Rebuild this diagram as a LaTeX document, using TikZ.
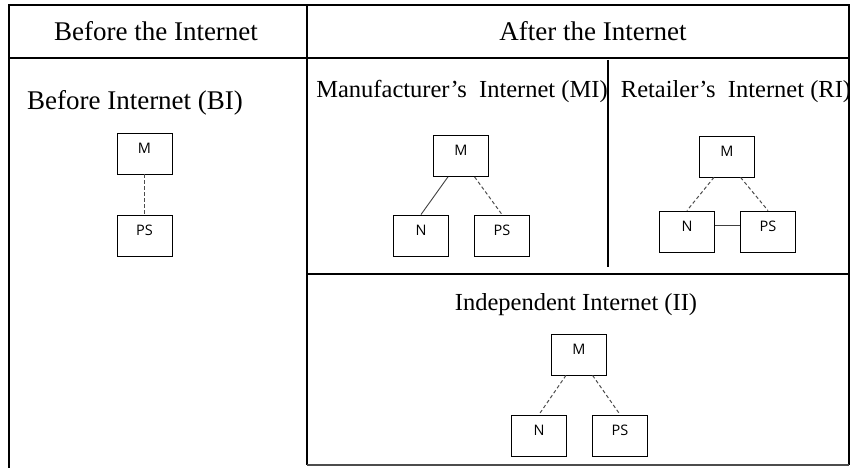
\documentclass[tikz,border=0pt]{standalone}
\usepackage{fontspec}
\setmainfont{Liberation Serif}
\newfontfamily\boxfont{Open Sans}

\begin{document}
\begin{tikzpicture}[x=1pt, y=-1pt,
    rule/.style={line width=1.6pt},
    headtext/.style={anchor=base, font=\fontsize{27}{30}\selectfont},
    celltext/.style={anchor=base, font=\fontsize{24.5}{28}\selectfont},
    party/.style={draw, line width=0.9pt, minimum width=55pt, minimum height=41pt, inner sep=0pt,
      text height=10.5pt, text depth=10.5pt, font=\boxfont\fontsize{14.5}{14.5}\selectfont},
    link/.style={line width=0.9pt, black!75},
    loose/.style={line width=1pt, black!70, dash pattern=on 3.5pt off 2.5pt}]
    \useasboundingbox (0,0) rectangle (852,468);
    \draw [rule] (9,468) -- (9,5) -- (849,5) -- (849,465);
    \draw [rule] (9,58) -- (849,58);
    \draw [rule] (307,5) -- (307,465);
    \draw [rule] (307,274) -- (849,274);
    \draw [rule] (608,60) -- (608,267);
    \draw [rule, black!70] (307,465) -- (849,465);
    \node[headtext] (before) at (156, 40.5) {Before the Internet};
    \node[headtext] (after) at (593, 40.5) {After the Internet};
    \node[headtext] (bi) at (135, 110) {Before Internet (BI)};
    \node[celltext] (mi) at (462, 98) {Manufacturer’s\ \ Internet (MI)};
    \node[celltext] (ri) at (736, 98) {Retailer’s\ \ Internet (RI)};
    \node[celltext] (ii) at (576, 310) {Independent Internet (II)};
    \node[party] (bi-m) at (144.5, 153.5) {M};
    \node[party] (bi-ps) at (144.5, 235.5) {PS};
    \node[party] (mi-m) at (461, 156) {M};
    \node[party] (mi-n) at (421, 235.5) {N};
    \node[party] (mi-ps) at (502, 235.5) {PS};
    \node[party] (ri-m) at (727, 156.5) {M};
    \node[party] (ri-n) at (687, 231.5) {N};
    \node[party] (ri-ps) at (768, 231.5) {PS};
    \node[party] (ii-m) at (579, 354.5) {M};
    \node[party] (ii-n) at (539, 435.5) {N};
    \node[party] (ii-ps) at (620, 435.5) {PS};
    \draw [loose] (bi-m) to (bi-ps);
    \draw [link] (mi-m.-122) to (mi-n.north);
    \draw [loose] (mi-m.-57) to (mi-ps.north);
    \draw [loose] (ri-m.-122) to (ri-n.north);
    \draw [loose] (ri-m.-57) to (ri-ps.north);
    \draw [link] (ri-n.13) to (ri-ps.167);
    \draw [loose] (ii-m.-122) to (ii-n.north);
    \draw [loose] (ii-m.-57) to (ii-ps.north);
  \end{tikzpicture}
\end{document}
